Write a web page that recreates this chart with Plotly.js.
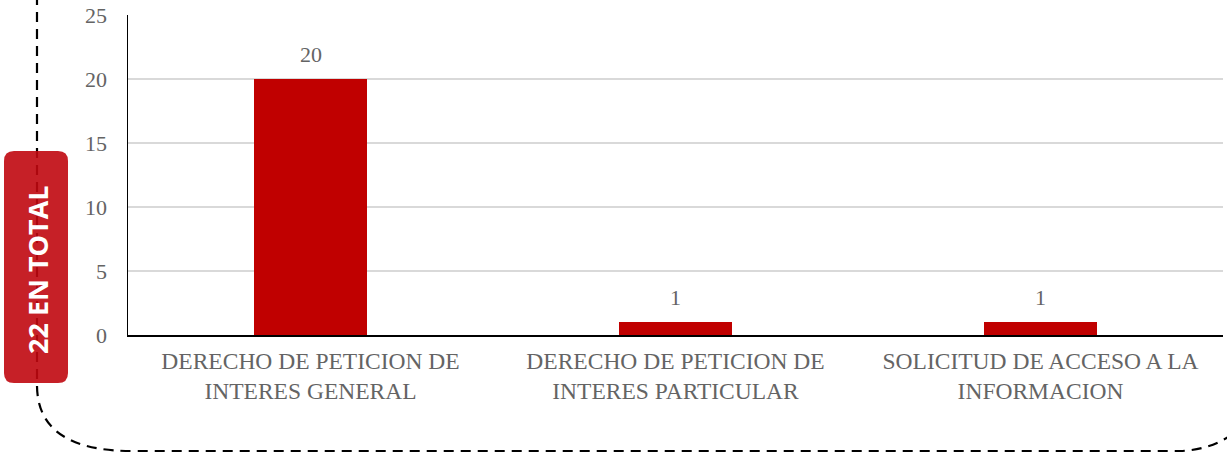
<!DOCTYPE html>
<html><head><meta charset="utf-8">
<script src="https://cdn.plot.ly/plotly-3.0.1.min.js"></script>
<style>html,body{margin:0;padding:0;background:#fff}#chart{width:1227px;height:457px}</style>
</head><body><div id="chart"></div>
<script>
const categories = ["DERECHO DE PETICION DE<br>INTERES GENERAL", "DERECHO DE PETICION DE<br>INTERES PARTICULAR", "SOLICITUD DE ACCESO A LA<br>INFORMACION"];
const values = [20, 1, 1];
const totalLabel = "22 EN TOTAL";
const yTicks = [0, 5, 10, 15, 20, 25];

const W = 1227, H = 457, ML = 128, MR = 4, MT = 15, MB = 122;
const PW = W - ML - MR, PH = H - MT - MB;
const px = x => ((x - ML) / PW).toFixed(5);
const py = y => ((H - MB - y) / PH).toFixed(5);

const dashPath = `M ${px(37)},${py(-5)} L ${px(37)},${py(385)} Q ${px(37)},${py(452)} ${px(135)},${py(451)} L ${px(1180)},${py(451)} Q ${px(1208)},${py(450)} ${px(1230)},${py(436)}`;
const r = 10, bx0 = 4, bx1 = 68, by0 = 151, by1 = 383;
const boxPath = `M ${px(bx0+r)},${py(by0)} L ${px(bx1-r)},${py(by0)} Q ${px(bx1)},${py(by0)} ${px(bx1)},${py(by0+r)} L ${px(bx1)},${py(by1-r)} Q ${px(bx1)},${py(by1)} ${px(bx1-r)},${py(by1)} L ${px(bx0+r)},${py(by1)} Q ${px(bx0)},${py(by1)} ${px(bx0)},${py(by1-r)} L ${px(bx0)},${py(by0+r)} Q ${px(bx0)},${py(by0)} ${px(bx0+r)},${py(by0)} Z`;

const grey = '#646464';
const serif = 'Liberation Serif, Times New Roman, serif';

const data = [{
  type: 'bar', x: categories, y: values,
  marker: {color: '#C00000'}, width: 0.31, hoverinfo: 'none'
}];

const annotations = categories.map((c, i) => ({
  x: c, y: values[i], xref: 'x', yref: 'y', text: String(values[i]),
  showarrow: false, yanchor: 'bottom', yshift: 10,
  font: {family: serif, size: 22, color: grey}
}));
annotations.push({
  xref: 'paper', yref: 'paper', x: px(38), y: py(270), text: '<b>' + totalLabel + '</b>',
  textangle: -90, showarrow: false, xanchor: 'center', yanchor: 'middle',
  font: {family: 'Open Sans, sans-serif', size: 27, color: '#ffffff'}
});

const layout = {
  width: W, height: H,
  margin: {l: ML, r: MR, t: MT, b: MB, pad: 0},
  paper_bgcolor: '#fff', plot_bgcolor: '#fff',
  showlegend: false, bargap: 0,
  xaxis: {
    showline: true, linecolor: '#000', linewidth: 1.5, showgrid: false,
    ticks: '', tickfont: {family: serif, size: 23.5, color: grey}, ticklabelstandoff: 4,
    fixedrange: true
  },
  yaxis: {
    range: [0, 25], tickvals: yTicks, ticktext: yTicks.map(String),
    showline: true, linecolor: '#000', linewidth: 1.5,
    showgrid: true, gridcolor: '#D9D9D9', gridwidth: 1.2, zeroline: false,
    ticks: '', tickfont: {family: serif, size: 22, color: grey}, ticklabelstandoff: 15,
    fixedrange: true
  },
  shapes: [
    {type: 'path', xref: 'paper', yref: 'paper', path: dashPath, line: {color: '#000', width: 2.2, dash: '10px,7px'}, layer: 'above'},
    {type: 'path', xref: 'paper', yref: 'paper', path: boxPath, fillcolor: 'rgb(192,8,15)', opacity: 0.9, line: {width: 0}, layer: 'above'}
  ],
  annotations: annotations
};

Plotly.newPlot('chart', data, layout, {staticPlot: true, displayModeBar: false});
</script></body></html>
